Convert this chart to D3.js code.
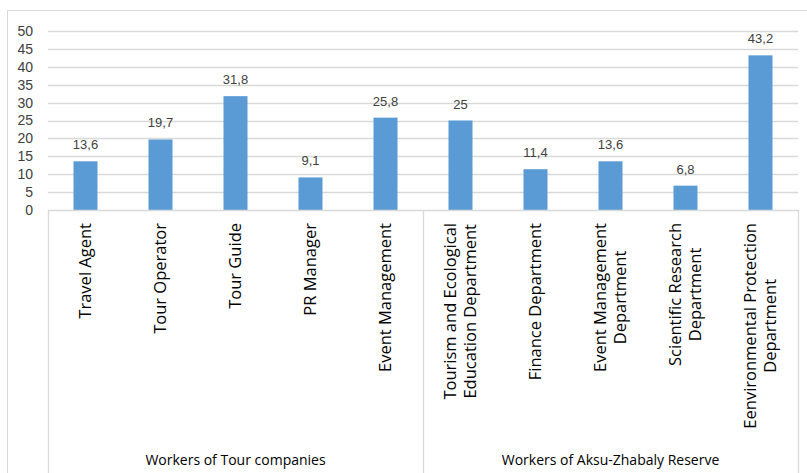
<!DOCTYPE html>
<html>
<head>
<meta charset="utf-8">
<script src="https://cdn.jsdelivr.net/npm/d3@7"></script>
<style>
  body { margin: 0; background: #fff; }
  svg { display: block; }
</style>
</head>
<body>
<div id="chart"></div>
<script>
const categories = [
  ["Travel Agent"],
  ["Tour Operator"],
  ["Tour Guide"],
  ["PR Manager"],
  ["Event Management"],
  ["Tourism and Ecological", "Education Department"],
  ["Finance Department"],
  ["Event Management", "Department"],
  ["Scientific Research", "Department"],
  ["Eenvironmental Protection", "Department"]
];
const values = [13.6, 19.7, 31.8, 9.1, 25.8, 25, 11.4, 13.6, 6.8, 43.2];
const groups = [
  { name: "Workers of Tour companies", from: 0, to: 4 },
  { name: "Workers of Aksu-Zhabaly Reserve", from: 5, to: 9 }
];
const yTicks = [0, 5, 10, 15, 20, 25, 30, 35, 40, 45, 50];

const width = 807, height = 473;
const plot = { left: 48, right: 798, top: 31, bottom: 210 };
const gridColor = "#d9d9d9";
const textColor = "#404040";
const labelFont = "'Open Sans', 'Liberation Sans', sans-serif";

const svg = d3.select("#chart").append("svg")
  .attr("width", width)
  .attr("height", height);

// outer chart border (cropped at right and bottom)
svg.append("path")
  .attr("d", `M7.5,${height} V10.5 H${width}`)
  .attr("fill", "none")
  .attr("stroke", gridColor);

const x = d3.scaleBand()
  .domain(d3.range(categories.length))
  .range([plot.left, plot.right])
  .paddingInner(0.68)
  .paddingOuter(0.34);

const y = d3.scaleLinear()
  .domain([0, 50])
  .range([plot.bottom, plot.top]);

// gridlines
svg.append("g")
  .selectAll("line")
  .data(yTicks.filter(d => d > 0))
  .join("line")
  .attr("x1", plot.left)
  .attr("x2", plot.right)
  .attr("y1", d => Math.round(y(d)) + 0.5)
  .attr("y2", d => Math.round(y(d)) + 0.5)
  .attr("stroke", gridColor)
  .attr("stroke-width", 1.3);

// y tick labels
svg.append("g")
  .selectAll("text")
  .data(yTicks)
  .join("text")
  .attr("x", 33)
  .attr("y", d => y(d))
  .attr("dy", "0.35em")
  .attr("text-anchor", "end")
  .attr("fill", textColor)
  .style("font-family", "'Liberation Sans', Arial, sans-serif")
  .style("font-size", "14px")
  .text(d => d);

// bars
svg.append("g")
  .selectAll("rect")
  .data(values)
  .join("rect")
  .attr("x", (d, i) => x(i))
  .attr("width", x.bandwidth())
  .attr("y", d => y(d))
  .attr("height", d => y(0) - y(d))
  .attr("fill", "#5b9bd5");

// value labels
svg.append("g")
  .selectAll("text")
  .data(values)
  .join("text")
  .attr("x", (d, i) => x(i) + x.bandwidth() / 2)
  .attr("y", d => y(d) - 12)
  .attr("text-anchor", "middle")
  .attr("fill", textColor)
  .style("font-family", "'Liberation Sans', Arial, sans-serif")
  .style("font-size", "13px")
  .text(d => String(d).replace(".", ","));

// category axis box: baseline + group dividers
const axisG = svg.append("g")
  .attr("stroke", gridColor)
  .attr("stroke-width", 1.3);
axisG.append("line")
  .attr("x1", plot.left).attr("x2", plot.right)
  .attr("y1", plot.bottom + 0.5).attr("y2", plot.bottom + 0.5);

const step = x.step();
const dividers = [plot.left].concat(groups.map(g => x(g.to) + (step + x.bandwidth()) / 2));
axisG.selectAll("line.div")
  .data(dividers)
  .join("line")
  .attr("class", "div")
  .attr("x1", d => Math.round(d) + 0.5)
  .attr("x2", d => Math.round(d) + 0.5)
  .attr("y1", plot.bottom)
  .attr("y2", height);

// rotated category labels
const lineGap = 20;
const catG = svg.append("g")
  .selectAll("text")
  .data(categories)
  .join("text")
  .attr("transform", (d, i) => {
    const cx = x(i) + x.bandwidth() / 2;
    return `translate(${cx},223) rotate(-90)`;
  })
  .attr("fill", "#000")
  .style("font-family", labelFont)
  .style("font-size", "16.5px");

catG.each(function (lines) {
  const t = d3.select(this);
  const n = lines.length;
  // measure longest line so that the block ends at the top anchor
  const tmp = t.append("tspan").text(lines.reduce((a, b) => a.length > b.length ? a : b));
  const w = tmp.node().getComputedTextLength();
  tmp.remove();
  lines.forEach((ln, k) => {
    t.append("tspan")
      .attr("x", -w / 2)
      .attr("y", (k - (n - 1) / 2) * lineGap)
      .attr("dy", "0.35em")
      .attr("text-anchor", "middle")
      .text(ln);
  });
});

// group labels
svg.append("g")
  .selectAll("text")
  .data(groups)
  .join("text")
  .attr("x", g => (x(g.from) + x(g.to) + x.bandwidth()) / 2)
  .attr("y", 465)
  .attr("text-anchor", "middle")
  .attr("fill", "#000")
  .style("font-family", labelFont)
  .style("font-size", "14px")
  .text(g => g.name);
</script>
</body>
</html>
